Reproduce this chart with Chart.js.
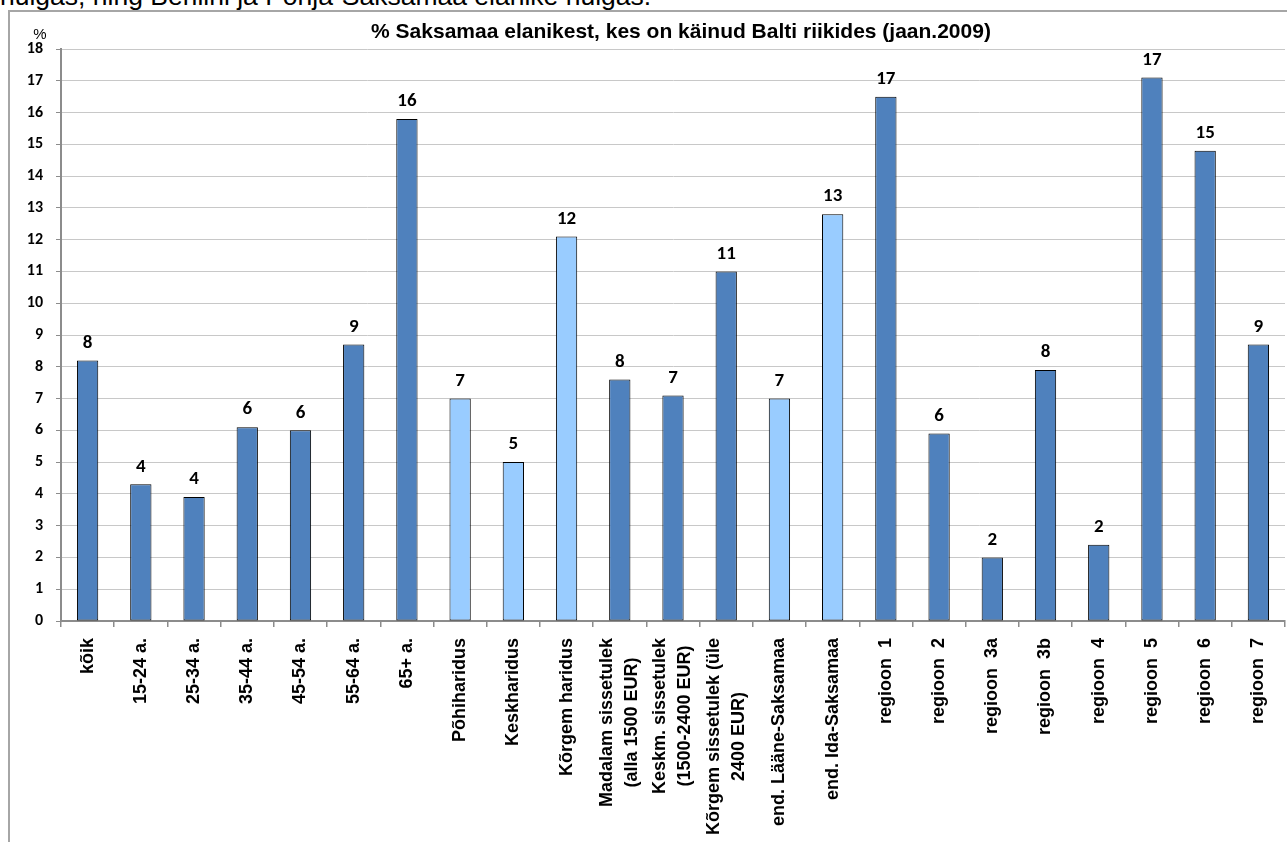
<!DOCTYPE html>
<html><head><meta charset="utf-8">
<script src="https://cdn.jsdelivr.net/npm/chart.js@4.4.1/dist/chart.umd.min.js"></script>
<style>
html,body{margin:0;padding:0;overflow:hidden;background:#fff;width:1287px;height:842px;}
#intro{position:absolute;left:0;top:-19px;font:26.5px "Liberation Sans",Arial,sans-serif;white-space:nowrap;line-height:30px;color:#000;}
#frame{position:absolute;left:8px;top:10px;width:1342px;height:840px;border-left:2px solid #a6a6a6;border-top:2px solid #a6a6a6;background:#fff;}
canvas{display:block}
</style></head>
<body>
<div id="intro">hulgas, ning Berliini ja Põhja-Saksamaa elanike hulgas.</div>
<div id="frame"><canvas id="c" width="1342" height="840"></canvas></div>
<script>
const chartTitle = '% Saksamaa elanikest, kes on käinud Balti riikides (jaan.2009)';
const yUnit = '%';
const categories = ['kõik','15-24 a.','25-34 a.','35-44 a.','45-54 a.','55-64 a.','65+ a.',
  'Põhiharidus','Keskharidus','Kõrgem haridus',
  ['Madalam sissetulek','(alla 1500 EUR)'],['Keskm. sissetulek','(1500-2400 EUR)'],['Kõrgem sissetulek (üle','2400 EUR)'],
  'end. Lääne-Saksamaa','end. Ida-Saksamaa',
  'regioon  1','regioon  2','regioon  3a','regioon  3b','regioon  4','regioon  5','regioon  6','regioon  7'];
const values = [8.2,4.3,3.9,6.1,6.0,8.7,15.8,7.0,5.0,12.1,7.6,7.1,11.0,7.0,12.8,16.5,5.9,2.0,7.9,2.4,17.1,14.8,8.7];
const valueLabels = [8,4,4,6,6,9,16,7,5,12,8,7,11,7,13,17,6,2,8,2,17,15,9];
const groups = ['total','age','age','age','age','age','age','edu','edu','edu','income','income','income',
  'area','area','region','region','region','region','region','region','region','region'];
const yMin = 0, yMax = 18, yStep = 1;

const DARK = '#4F81BD', LIGHT = '#99CCFF';
const lightGroups = ['edu','area'];
const barColors = groups.map(g => lightGroups.includes(g) ? LIGHT : DARK);

const AXIS = '#8c8c8c', GRID = '#c8c8c8';
const numFont = 'Carlito, Lato, "Open Sans", sans-serif';
const arialFont = '"Liberation Sans", Arial, sans-serif';

const extras = {
  id: 'extras',
  afterDatasetsDraw(chart) {
    const ctx = chart.ctx;
    const meta = chart.getDatasetMeta(0);
    ctx.save();
    ctx.fillStyle = '#000';
    ctx.font = 'bold 19px ' + numFont;
    ctx.textAlign = 'center';
    ctx.textBaseline = 'middle';
    meta.data.forEach((bar, i) => {
      ctx.fillText(String(valueLabels[i]), bar.x, bar.y - 17.5);
    });
    ctx.restore();
  },
  afterDraw(chart) {
    const ctx = chart.ctx, area = chart.chartArea, xs = chart.scales.x;
    ctx.save();
    ctx.fillStyle = '#000';
    ctx.font = 'bold 21px ' + arialFont;
    ctx.textAlign = 'center';
    ctx.textBaseline = 'alphabetic';
    ctx.fillText(chartTitle, chart.width / 2, 26);
    ctx.font = '15px ' + arialFont;
    ctx.textBaseline = 'middle';
    ctx.fillText(yUnit, area.left - 21, area.top - 14);
    ctx.font = 'bold 18px ' + arialFont;
    ctx.textAlign = 'center';
    ctx.textBaseline = 'middle';
    const lh = 25;
    categories.forEach((lab, i) => {
      const lines = Array.isArray(lab) ? lab : [lab];
      const w = Math.max(...lines.map(l => ctx.measureText(l).width));
      const x = xs.getPixelForTick(i);
      ctx.save();
      ctx.translate(x, area.bottom + 17);
      ctx.rotate(-Math.PI / 2);
      lines.forEach((l, j) => ctx.fillText(l, -w / 2, (j - (lines.length - 1) / 2) * lh));
      ctx.restore();
    });
    ctx.restore();
  }
};

new Chart(document.getElementById('c'), {
  type: 'bar',
  data: {
    labels: categories,
    datasets: [{
      data: values,
      backgroundColor: barColors,
      borderColor: '#000',
      borderWidth: 1,
      borderSkipped: false,
      barPercentage: 0.4,
      categoryPercentage: 1.0
    }]
  },
  options: {
    responsive: false,
    animation: false,
    events: [],
    layout: { padding: { top: 37, right: 67, bottom: 0, left: 0 } },
    plugins: { legend: { display: false }, title: { display: false }, tooltip: { enabled: false } },
    scales: {
      x: {
        afterFit(scale) { scale.height = 231; },
        grid: { display: true, drawOnChartArea: false, drawTicks: true, tickLength: 6, offset: true, color: AXIS, lineWidth: 1.5 },
        border: { display: true, color: AXIS, width: 2 },
        ticks: { display: false }
      },
      y: {
        min: yMin, max: yMax,
        afterFit(scale) { scale.width = 51; },
        grid: { color: GRID, lineWidth: 1, tickLength: 5, tickColor: AXIS, drawTicks: true },
        border: { display: true, color: AXIS, width: 2 },
        ticks: { stepSize: yStep, padding: 13, color: '#000', font: { family: numFont, size: 16, weight: 'bold' } }
      }
    }
  },
  plugins: [extras]
});
</script>
</body></html>
